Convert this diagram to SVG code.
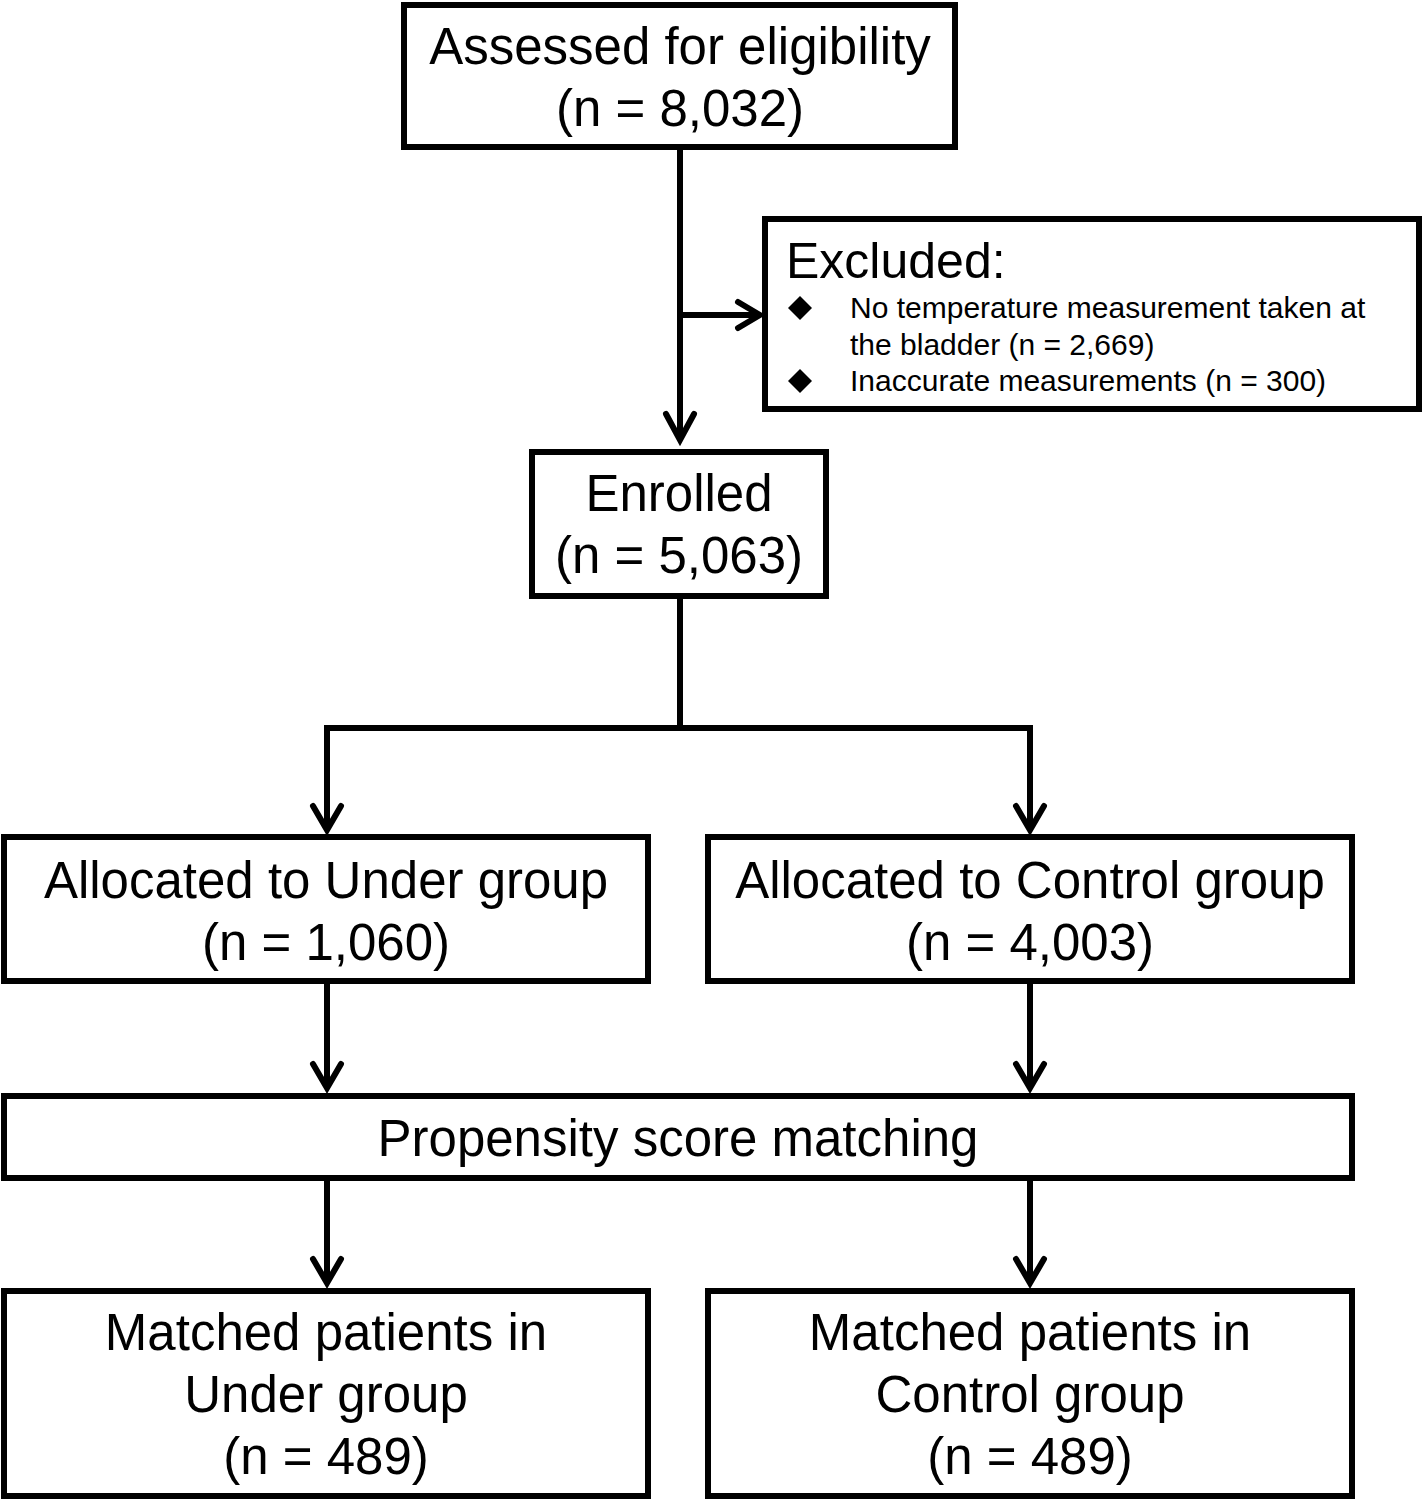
<svg xmlns="http://www.w3.org/2000/svg" width="1424" height="1501" viewBox="0 0 1424 1501">
<style>
.box{fill:#fff;stroke:#000;stroke-width:6}
.t{font-family:"Liberation Sans",Arial,sans-serif;font-size:51px;fill:#000;text-anchor:middle}
.s{font-family:"Liberation Sans",Arial,sans-serif;font-size:30px;fill:#000}
.ln{fill:none;stroke:#000;stroke-width:6}
.ah{fill:none;stroke:#000;stroke-width:6;stroke-linecap:round;stroke-linejoin:miter}
</style>
<rect width="1424" height="1501" fill="#fff"/>
<g id="connectors">
<path class="ln" d="M680 150V440"/>
<path class="ah" d="M666 414L680 440L694 414"/>
<path class="ln" d="M680 315H758"/>
<path class="ah" d="M738 302L760 315L738 328"/>
<path class="ln" d="M680 598V728M327 830V728H1030V830"/>
<path class="ah" d="M313 806L327 830L341 806"/>
<path class="ah" d="M1016 806L1030 830L1044 806"/>
<path class="ln" d="M327 983V1088M1030 983V1088"/>
<path class="ah" d="M313 1064L327 1088L341 1064"/>
<path class="ah" d="M1016 1064L1030 1088L1044 1064"/>
<path class="ln" d="M327 1179V1283M1030 1179V1283"/>
<path class="ah" d="M313 1259L327 1283L341 1259"/>
<path class="ah" d="M1016 1259L1030 1283L1044 1259"/>
</g>
<g id="assessed">
<rect class="box" x="404" y="5" width="551" height="142"/>
<text class="t" x="680" y="64">Assessed for eligibility</text>
<text class="t" x="680" y="126">(n = 8,032)</text>
</g>
<g id="excluded">
<rect class="box" x="765" y="219" width="654" height="190"/>
<text class="s" x="786" y="278" style="font-size:50px">Excluded:</text>
<polygon points="800,296 812,308 800,320 788,308" fill="#000"/>
<text class="s" x="850" y="318">No temperature measurement taken at</text>
<text class="s" x="850" y="355">the bladder (n = 2,669)</text>
<polygon points="800,369 812,381 800,393 788,381" fill="#000"/>
<text class="s" x="850" y="391">Inaccurate measurements (n = 300)</text>
</g>
<g id="enrolled">
<rect class="box" x="532" y="452" width="294" height="144"/>
<text class="t" x="679" y="511">Enrolled</text>
<text class="t" x="679" y="573">(n = 5,063)</text>
</g>
<g id="under">
<rect class="box" x="4" y="837" width="644" height="144"/>
<text class="t" x="326" y="898">Allocated to Under group</text>
<text class="t" x="326" y="960">(n = 1,060)</text>
</g>
<g id="control">
<rect class="box" x="708" y="837" width="644" height="144"/>
<text class="t" x="1030" y="898">Allocated to Control group</text>
<text class="t" x="1030" y="960">(n = 4,003)</text>
</g>
<g id="psm">
<rect class="box" x="4" y="1096" width="1348" height="82"/>
<text class="t" x="678" y="1156">Propensity score matching</text>
</g>
<g id="matched-under">
<rect class="box" x="4" y="1291" width="644" height="205"/>
<text class="t" x="326" y="1350">Matched patients in</text>
<text class="t" x="326" y="1412">Under group</text>
<text class="t" x="326" y="1474">(n = 489)</text>
</g>
<g id="matched-control">
<rect class="box" x="708" y="1291" width="644" height="205"/>
<text class="t" x="1030" y="1350">Matched patients in</text>
<text class="t" x="1030" y="1412">Control group</text>
<text class="t" x="1030" y="1474">(n = 489)</text>
</g>
</svg>
